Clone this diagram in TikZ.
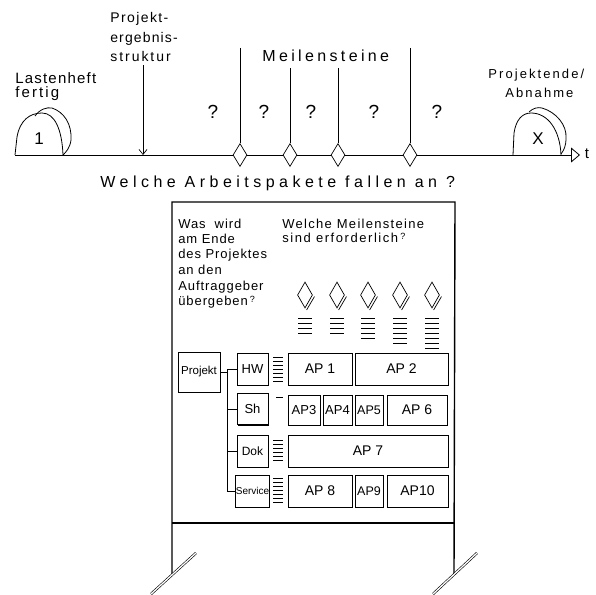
\documentclass[tikz,border=0pt]{standalone}
\usepackage{fontspec}
\setmainfont{Liberation Sans}
\usetikzlibrary{shapes.geometric,arrows.meta,shadows}
\newcommand{\fs}[2]{\fontsize{#1}{#1}\selectfont\addfontfeature{LetterSpace=#2}}
\begin{document}
\begin{tikzpicture}[x=1pt,y=-1pt,
  lbl/.style={inner sep=0, anchor=base west},
  ctr/.style={inner sep=0},
  ms/.style={diamond, draw, fill=white, minimum width=14pt, minimum height=23pt, inner sep=0, line width=0.7pt},
  sms/.style={diamond, draw, fill=white, minimum width=15pt, minimum height=26pt, inner sep=0, line width=0.7pt},
  apbox/.style={draw, fill=white, line width=0.7pt, inner sep=0,
     general shadow={fill=black, shadow xshift=1.2pt, shadow yshift=-1.2pt}},
  frame/.style={line width=1.4pt},
  stroke/.style={line width=0.7pt},
  line width=0.7pt]
\useasboundingbox (0,0) rectangle (596,594);

% ---------- timeline ----------
\coordinate (axL) at (15,155);
\coordinate (axR) at (580,155);
\draw[line width=0.8pt, -{Triangle[open,length=9pt,width=15pt]}] (axL) -- (axR);
\node[ctr, font=\fs{15}{0}] (tlab) at (587,154) {t};

% hill 1
\draw[line width=0.8pt] (15,155) -- (17,137) .. controls (20,120) and (30,113) .. (42,113) .. controls (55,113) and (62,130) .. (63,155);
\draw[line width=0.8pt] (35,116) .. controls (40,109) and (47,107) .. (52,108) .. controls (64,112) and (72,124) .. (71,140) .. controls (70,148) and (66,152) .. (63,155);
\node[ctr, font=\fs{17}{0}] (one) at (39,139) {1};
% hill X
\draw[line width=0.8pt] (513,155) -- (514,133) .. controls (516,120) and (522,113) .. (531,113) .. controls (548,113) and (560,130) .. (561,155);
\draw[line width=0.8pt] (529,112) .. controls (533,108) and (538,107) .. (542,108) .. controls (556,112) and (567,125) .. (566,138) .. controls (566,146) and (564,150) .. (561,154);
\node[ctr, font=\fs{17}{0}] (ex) at (538,139) {X};

% labels
\node[lbl, font=\fs{15}{8}] (last1) at (15,83) {Lastenheft};
\node[lbl, font=\fs{15}{14}] (last2) at (15,97) {fertig};
\node[lbl, font=\fs{14}{10}] (pes1) at (110,23) {Projekt-};
\node[lbl, font=\fs{14}{8}] (pes2) at (110,42) {ergebnis-};
\node[lbl, font=\fs{14}{14}] (pes3) at (110,61) {struktur};
\node[lbl, font=\fs{16}{21}] (mst) at (262,62) {Meilensteine};
\node[lbl, font=\fs{13}{16}] (pe1) at (488,78) {Projektende/};
\node[lbl, font=\fs{13}{16}] (pe2) at (505,97) {Abnahme};
\node[lbl, font=\fs{16}{28}] (q) at (100,187) {Welche Arbeitspakete fallen an ?};

% PES arrow
\coordinate (pesT) at (143,65);
\coordinate (pesB) at (143,155);
\draw[-{Straight Barb[length=5pt,width=8pt]}] (pesT) -- (pesB);

% milestones on axis
\node[ms] (d1) at (240,155) {};
\node[ms] (d2) at (290,155) {};
\node[ms] (d3) at (338,155) {};
\node[ms] (d4) at (410,155) {};
\coordinate (t1) at (240,48);
\coordinate (t2) at (290,68);
\coordinate (t3) at (338,68);
\coordinate (t4) at (410,48);
\draw (t1) -- (d1.north);
\draw (t2) -- (d2.north);
\draw (t3) -- (d3.north);
\draw (t4) -- (d4.north);

% question marks
\foreach \x [count=\i] in {213,264,311,374,437}
  \node[ctr, font=\fs{19}{0}] (qm\i) at (\x,112) {?};

% ---------- board ----------
\coordinate (bTL) at (172,202);
\coordinate (bTR) at (455,202);
\coordinate (bBL) at (172,523);
\coordinate (bBR) at (455,523);
\coordinate (legL) at (172,574);
\coordinate (legR) at (454,574);
\draw[frame] (legL) -- (bTL) -- (bTR) -- (legR);
\draw[frame] (bBL) -- (bBR);
% feet
\coordinate (fL1) at (151,594);
\coordinate (fL2) at (196,553);
\coordinate (fR1) at (433,594);
\coordinate (fR2) at (477,553);
\draw[double, double distance=1.3pt, line width=0.6pt] (fL1) -- (fL2);
\draw[double, double distance=1.3pt, line width=0.6pt] (fR1) -- (fR2);

% board texts
\node[lbl, font=\fs{13}{7}] (w1) at (178,228) {Was~~wird};
\node[lbl, font=\fs{13}{7}] (w2) at (178,243) {am Ende};
\node[lbl, font=\fs{13}{7}] (w3) at (178,258) {des Projektes};
\node[lbl, font=\fs{13}{7}] (w4) at (178,274) {an den};
\node[lbl, font=\fs{13}{7}] (w5) at (178,290) {Auftraggeber};
\node[lbl, font=\fs{13}{7}] (w6) at (178,305) {übergeben\,\raisebox{3pt}{\fs{9}{0}?}};
\node[lbl, font=\fs{13}{10}] (m1) at (282,228) {Welche Meilensteine};
\node[lbl, font=\fs{13}{12}] (m2) at (282,242) {sind erforderlich\,\raisebox{3pt}{\fs{9}{0}?}};

% small milestones with notes
\foreach \x/\n [count=\i] in {305/4,337/4,368/5,400/6,432/7} {
  \node[sms] (sd\i) at (\x,295) {};
  \draw ([shift={(1.6,1.6)}]sd\i.east) -- ([shift={(1.6,1.6)}]sd\i.south);
  \foreach \k in {1,...,\n}
    \draw[line width=0.8pt] (\x-7,313+5*\k) -- (\x+7,313+5*\k);
}

% structure tree
\node[apbox, minimum width=42pt, minimum height=40pt, font=\fs{11.5}{0}] (P) at (199,372) {Projekt};
\node[apbox, minimum width=31pt, minimum height=32pt, font=\fs{13}{0}] (HW) at (252.5,369) {HW};
\node[apbox, minimum width=31pt, minimum height=31pt, font=\fs{13}{0}] (Sh) at (252.5,409) {Sh\hspace{8pt}};
\node[apbox, minimum width=31pt, minimum height=32pt, font=\fs{12}{0}] (Dok) at (252.5,451) {Dok};
\node[apbox, minimum width=31pt, minimum height=32pt, font=\fs{10}{0}] (Sv) at (252.5,491) {Service};
\coordinate (tj) at (227,372);
\draw (P.east) -- (tj) |- (HW.west);
\draw (tj) |- (Sh.west);
\draw (tj) |- (Dok.west);
\draw (tj) |- (Sv.west);

% note strokes beside the boxes
\foreach \k in {0,...,6} \draw (273,357+4.1*\k) -- (283,357+4.1*\k);
\draw (276,397) -- (283,397);
\foreach \k in {0,...,5} \draw (273,440+4*\k) -- (283,440+4*\k);
\foreach \k in {0,...,6} \draw (273,478+4*\k) -- (283,478+4*\k);

% work packages
\node[apbox, minimum width=64pt, minimum height=32pt, font=\fs{14}{0}] (ap1) at (320,369) {AP 1};
\node[apbox, minimum width=93pt, minimum height=32pt, font=\fs{14}{0}] (ap2) at (401.5,369) {AP 2};
\node[apbox, minimum width=32pt, minimum height=30pt, font=\fs{13}{0}] (ap3) at (304,410) {AP3};
\node[apbox, minimum width=29pt, minimum height=30pt, font=\fs{13}{0}] (ap4) at (337.5,410) {AP4};
\node[apbox, minimum width=28pt, minimum height=30pt, font=\fs{12.5}{0}] (ap5) at (369,410) {AP5};
\node[apbox, minimum width=60pt, minimum height=30pt, font=\fs{14}{0}] (ap6) at (417,410) {AP 6};
\node[apbox, minimum width=160pt, minimum height=32pt, font=\fs{14}{0}] (ap7) at (368,451) {AP 7};
\node[apbox, minimum width=64pt, minimum height=32pt, font=\fs{14}{0}] (ap8) at (320,491) {AP 8};
\node[apbox, minimum width=28pt, minimum height=32pt, font=\fs{12.5}{0}] (ap9) at (369,491) {AP9};
\node[apbox, minimum width=61pt, minimum height=32pt, font=\fs{14}{0}] (ap10) at (417.5,491) {AP10};
\end{tikzpicture}
\end{document}
